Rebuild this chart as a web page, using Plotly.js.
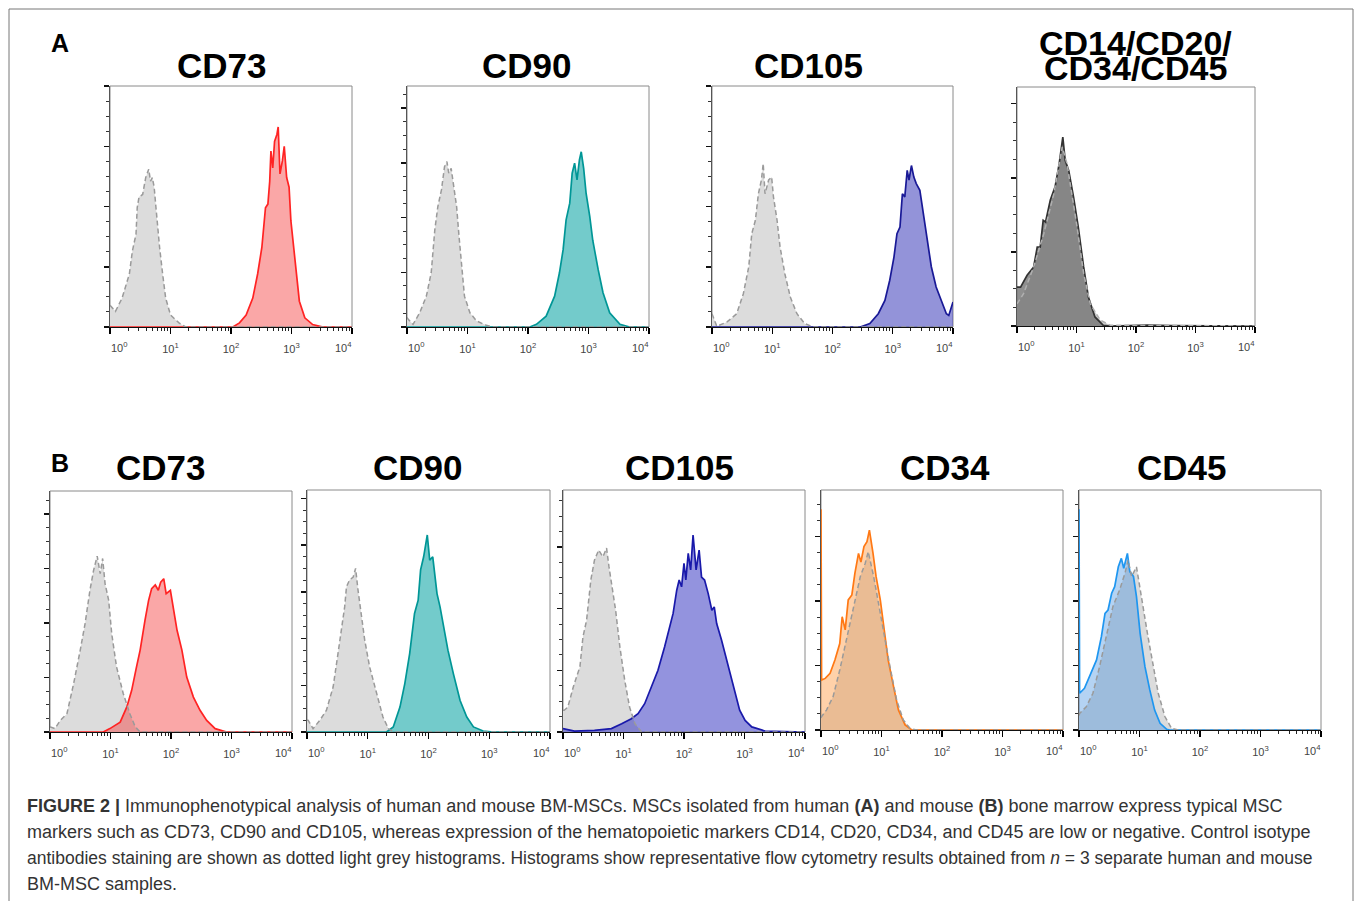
<!DOCTYPE html>
<html>
<head>
<meta charset="utf-8">
<script src="https://cdn.plot.ly/plotly-3.0.1.min.js"></script>
<style>html,body{margin:0;padding:0;background:#fff;}#chart{width:1355px;height:901px;}</style>
</head>
<body>
<div id="chart"></div>
<script>
// ---------- DATA (x = log10 fluorescence intensity, h = % of maximal count axis) ----------
const xTickVals = [1, 10, 100, 1000, 10000];
const xTickText = ["10<sup>0</sup>", "10<sup>1</sup>", "10<sup>2</sup>", "10<sup>3</sup>", "10<sup>4</sup>"];

// A: human BM-MSCs
const A_CD73_iso_e = [0, 0.09, 0.2, 0.32, 0.37, 0.43, 0.45, 0.48, 0.54, 0.59, 0.64, 0.67, 0.70, 0.73, 0.76, 0.79, 0.82, 0.87, 0.92, 1.0, 1.14, 1.25, 4];
const A_CD73_iso_h = [9, 6.5, 12, 22, 31.5, 38.5, 49.5, 54, 55, 62, 65.5, 60.5, 62, 58, 49.5, 41, 33, 22, 12, 5, 1.7, 0, 0];
const A_CD73_smp_e = [0, 2.03, 2.14, 2.25, 2.36, 2.44, 2.51, 2.57, 2.61, 2.64, 2.66, 2.69, 2.72, 2.76, 2.78, 2.81, 2.85, 2.88, 2.92, 2.96, 2.99, 3.05, 3.09, 3.13, 3.22, 3.35, 3.52, 4];
const A_CD73_smp_h = [0, 0, 1.7, 5, 12, 22, 33, 49.5, 51, 60.5, 73, 66, 77, 80, 83, 63.5, 69, 75, 62, 58, 44, 30, 19, 10.7, 3.8, 1, 0, 0];

const A_CD90_iso_e = [0, 0.02, 0.1, 0.21, 0.32, 0.40, 0.46, 0.51, 0.57, 0.62, 0.66, 0.69, 0.73, 0.77, 0.82, 0.86, 0.90, 0.95, 1.04, 1.15, 1.31, 1.42, 4];
const A_CD90_iso_h = [4, 3.2, 1.1, 5.9, 12.8, 22.5, 40.4, 50, 57, 66.5, 68.6, 63.8, 65.8, 58.3, 50, 37.6, 25.2, 12.8, 5.9, 2.5, 0.7, 0, 0];
const A_CD90_smp_e = [0, 2.03, 2.14, 2.30, 2.44, 2.52, 2.58, 2.63, 2.69, 2.73, 2.77, 2.81, 2.85, 2.88, 2.92, 2.96, 3.02, 3.07, 3.16, 3.24, 3.35, 3.52, 3.68, 4];
const A_CD90_smp_h = [0, 0, 1.1, 4.5, 12.8, 22.5, 32, 44.5, 51.4, 63.8, 68, 61, 69.3, 72.7, 65.8, 55.5, 46, 36, 23.8, 14.2, 5.9, 1.1, 0, 0];

const A_CD105_iso_e = [0, 0.02, 0.08, 0.25, 0.41, 0.52, 0.61, 0.66, 0.72, 0.77, 0.82, 0.85, 0.88, 0.94, 0.99, 1.02, 1.08, 1.13, 1.21, 1.30, 1.41, 1.54, 1.68, 4];
const A_CD105_iso_h = [5.5, 4, 0.3, 2.1, 5.5, 13.8, 25, 38.7, 44.3, 55.3, 61, 67.8, 55.3, 61, 62.2, 54, 44.3, 33.2, 22, 12.4, 5.5, 1.4, 0, 0];
const A_CD105_smp_e = [0, 2.46, 2.62, 2.76, 2.87, 2.95, 3.02, 3.07, 3.12, 3.16, 3.20, 3.24, 3.27, 3.31, 3.35, 3.39, 3.45, 3.50, 3.57, 3.64, 3.72, 3.81, 3.89, 3.93, 3.97, 4.0];
const A_CD105_smp_h = [0, 0, 1.4, 5.5, 11, 19.4, 29, 38.7, 41.5, 55.3, 54, 65, 61, 67, 62.2, 59.5, 56.7, 48.4, 37.3, 25, 16.6, 11, 5.5, 4.8, 8.3, 10.4];

const A_CD14_iso_e = [0, 0.11, 0.28, 0.45, 0.62, 0.76, 0.84, 0.92, 1.01, 1.12, 1.23, 1.40, 1.57, 4];
const A_CD14_iso_h = [9.3, 13.5, 24.7, 38.6, 55.4, 74.9, 68, 55.4, 41.4, 22, 9.3, 2.4, 0.3, 0];
const A_CD14_smp_e = [0, 0.06, 0.17, 0.28, 0.34, 0.39, 0.44, 0.48, 0.56, 0.64, 0.71, 0.77, 0.81, 0.87, 0.95, 1.03, 1.12, 1.20, 1.31, 1.45, 1.57, 2.2, 2.6, 4];
const A_CD14_smp_h = [16.3, 16.3, 21.2, 24.7, 33, 33, 44.2, 43.5, 52.7, 58.2, 68, 79, 69.3, 65, 54, 41.4, 24.7, 12.1, 3.8, 0.3, 0, 0.4, 0.2, 0];

// B: mouse BM-MSCs
const B_CD73_iso_e = [0, 0.01, 0.08, 0.17, 0.28, 0.39, 0.50, 0.58, 0.66, 0.72, 0.78, 0.83, 0.87, 0.91, 0.97, 1.02, 1.10, 1.21, 1.32, 1.41, 1.49, 4];
const B_CD73_iso_h = [2, 2.1, 1.4, 4.8, 7.6, 20, 34, 45, 58.8, 67, 73, 65.7, 72, 61.6, 54.6, 40.8, 27, 16, 7.6, 2.1, 0, 0];
const B_CD73_smp_e = [0, 0.88, 0.99, 1.16, 1.27, 1.35, 1.43, 1.49, 1.57, 1.63, 1.68, 1.74, 1.79, 1.83, 1.88, 1.92, 1.99, 2.04, 2.10, 2.18, 2.26, 2.37, 2.48, 2.59, 2.73, 2.92, 4];
const B_CD73_smp_h = [0, 0, 1.4, 4.1, 10.4, 17.3, 27, 34, 46.3, 54.6, 59.5, 61, 58.8, 62.2, 63.6, 57.4, 58.8, 50.5, 42.2, 34, 22.8, 14.5, 9, 4.8, 1.4, 0, 0];

const B_CD90_iso_e = [0, 0.02, 0.1, 0.21, 0.32, 0.43, 0.51, 0.57, 0.62, 0.65, 0.70, 0.76, 0.80, 0.84, 0.90, 0.95, 1.03, 1.14, 1.25, 1.34, 1.42, 4];
const B_CD90_iso_h = [5, 4.8, 1.4, 4.8, 9, 18.6, 32.4, 42, 51.7, 60, 62.8, 64, 67.6, 58.6, 46.2, 38, 27, 16, 6.2, 1.4, 0, 0];
const B_CD90_smp_e = [0, 1.31, 1.42, 1.53, 1.61, 1.69, 1.77, 1.83, 1.87, 1.92, 1.98, 2.02, 2.07, 2.10, 2.14, 2.19, 2.25, 2.32, 2.41, 2.52, 2.63, 2.74, 2.90, 3.07, 4];
const B_CD90_smp_h = [0, 0, 2.1, 10.3, 20, 32.4, 49, 54.5, 67, 72.4, 81.4, 71, 72.4, 65.5, 57.2, 51.7, 43.4, 33.8, 24, 13, 6.2, 2.1, 0.4, 0, 0];

const B_CD105_iso_e = [0, 0.02, 0.08, 0.17, 0.28, 0.33, 0.39, 0.46, 0.52, 0.59, 0.66, 0.72, 0.76, 0.81, 0.87, 0.94, 1.02, 1.10, 1.19, 1.30, 4];
const B_CD105_iso_h = [9, 9, 10.3, 18.6, 27, 39.3, 46.2, 62.8, 71, 75.2, 72.4, 76, 68.3, 60, 50.3, 35.2, 21.4, 10.3, 3.4, 0, 0];
const B_CD105_smp_e = [0, 0.19, 0.52, 0.80, 0.97, 1.13, 1.24, 1.35, 1.46, 1.57, 1.68, 1.77, 1.82, 1.88, 1.92, 1.96, 2.00, 2.03, 2.07, 2.11, 2.15, 2.20, 2.25, 2.29, 2.34, 2.40, 2.46, 2.50, 2.54, 2.62, 2.73, 2.84, 2.92, 3.01, 3.12, 3.34, 3.72, 4];
const B_CD105_smp_h = [1.4, 0.4, 0.7, 1.4, 3.4, 5.5, 7.6, 11.7, 18.6, 25.5, 35.2, 43.4, 49, 58.6, 62.8, 60, 69.7, 62.8, 73.8, 67, 81.4, 67, 75.2, 64, 62.8, 57.2, 50.3, 51.7, 44.8, 38, 27, 16, 9, 4.8, 2.1, 0.4, 0, 0];

const B_CD34_iso_e = [0, 0.01, 0.09, 0.2, 0.31, 0.42, 0.54, 0.65, 0.73, 0.78, 0.87, 0.95, 1.03, 1.14, 1.25, 1.36, 1.47, 1.58, 4];
const B_CD34_iso_h = [5, 5.6, 8.3, 13.9, 25, 37.5, 51.4, 64, 69.4, 74.3, 64, 52.8, 41.7, 26.4, 12.5, 4.2, 0.7, 0, 0];
const B_CD34_smp_e = [0, 0.01, 0.07, 0.15, 0.23, 0.31, 0.35, 0.40, 0.45, 0.51, 0.56, 0.62, 0.66, 0.71, 0.76, 0.80, 0.86, 0.91, 0.98, 1.04, 1.11, 1.20, 1.28, 1.39, 1.50, 4];
const B_CD34_smp_h = [92, 20.8, 21.5, 23.6, 29.2, 36, 47.2, 41.7, 54.2, 56.3, 65.3, 73.6, 70, 76.4, 78.5, 83.3, 73.6, 64, 54.2, 41.7, 29.2, 18, 8.3, 2.1, 0, 0];

const B_CD45_iso_e = [0, 0.01, 0.12, 0.23, 0.34, 0.45, 0.56, 0.67, 0.76, 0.81, 0.87, 0.95, 1.01, 1.07, 1.14, 1.23, 1.31, 1.42, 1.53, 1.64, 4];
const B_CD45_iso_h = [6, 6.9, 9.7, 15.3, 26.4, 38.9, 51.4, 58.3, 65.3, 70.8, 64, 68, 58.3, 48.6, 38.9, 26.4, 15.3, 5.6, 0.7, 0, 0];
const B_CD45_smp_e = [0, 0.01, 0.09, 0.2, 0.29, 0.37, 0.43, 0.48, 0.54, 0.59, 0.65, 0.70, 0.74, 0.80, 0.84, 0.90, 0.95, 1.01, 1.09, 1.17, 1.25, 1.34, 1.45, 1.50, 4];
const B_CD45_smp_h = [92, 15.3, 17.4, 23.6, 29.2, 38.9, 48.6, 50, 57, 59.7, 68, 71.5, 67.4, 73.6, 66, 64, 55.6, 40.3, 26.4, 16.7, 8.3, 2.8, 0.3, 0, 0];

const panelTitles = ["CD73", "CD90", "CD105", null, "CD73", "CD90", "CD105", "CD34", "CD45"];
const hematoTitleLines = ["CD14/CD20/", "CD34/CD45"];
const captionLines = [
  "<b>FIGURE 2 |</b> Immunophenotypical analysis of human and mouse BM-MSCs. MSCs isolated from human <b>(A)</b> and mouse <b>(B)</b> bone marrow express typical MSC",
  "markers such as CD73, CD90 and CD105, whereas expression of the hematopoietic markers CD14, CD20, CD34, and CD45 are low or negative. Control isotype",
  "antibodies staining are shown as dotted light grey histograms. Histograms show representative flow cytometry results obtained from <i>n</i> = 3 separate human and mouse",
  "BM-MSC samples."
];

// ---------- LAYOUT / STYLE ----------
const W = 1355, H = 901;
const fx = px => px / W;
const fy = py => 1 - py / H;
const FONT = 'Liberation Sans, Arial, sans-serif';
const TICKFONT = {size: 11, color: '#444', family: FONT};

const panels = [
  {iso:[A_CD73_iso_e, A_CD73_iso_h], smp:[A_CD73_smp_e, A_CD73_smp_h], box:[110,352,86,327], line:'rgb(255,35,35)', fill:'rgba(245,60,60,0.45)', dy:25, tx:221},
  {iso:[A_CD90_iso_e, A_CD90_iso_h], smp:[A_CD90_smp_e, A_CD90_smp_h], box:[407,649,86,327], line:'rgb(0,150,150)', fill:'rgba(0,160,160,0.55)', dy:22.7, tx:526},
  {iso:[A_CD105_iso_e, A_CD105_iso_h], smp:[A_CD105_smp_e, A_CD105_smp_h], box:[712,953,86,327], line:'rgb(25,25,150)', fill:'rgba(40,40,180,0.5)', dy:25, tx:808},
  {iso:[A_CD14_iso_e, A_CD14_iso_h], smp:[A_CD14_smp_e, A_CD14_smp_h], box:[1017,1255,87,326], line:'rgb(50,50,50)', fill:'rgba(115,115,115,0.8)', dy:31, tx:1135, isoFill:'#cfcfcf', isoLine:'#b0b0b0'},
  {iso:[B_CD73_iso_e, B_CD73_iso_h], smp:[B_CD73_smp_e, B_CD73_smp_h], box:[50,292,491,732], line:'rgb(255,35,35)', fill:'rgba(245,60,60,0.45)', dy:22.6, tx:160},
  {iso:[B_CD90_iso_e, B_CD90_iso_h], smp:[B_CD90_smp_e, B_CD90_smp_h], box:[307,550,490,732], line:'rgb(0,150,150)', fill:'rgba(0,160,160,0.55)', dy:19.3, tx:417},
  {iso:[B_CD105_iso_e, B_CD105_iso_h], smp:[B_CD105_smp_e, B_CD105_smp_h], box:[563,805,490,732], line:'rgb(25,25,170)', fill:'rgba(40,40,190,0.5)', dy:25.5, tx:679},
  {iso:[B_CD34_iso_e, B_CD34_iso_h], smp:[B_CD34_smp_e, B_CD34_smp_h], box:[821,1063,490,730], line:'rgb(255,120,20)', fill:'rgba(255,140,40,0.4)', dy:26.9, tx:945},
  {iso:[B_CD45_iso_e, B_CD45_iso_h], smp:[B_CD45_smp_e, B_CD45_smp_h], box:[1079,1321,490,730], line:'rgb(30,150,240)', fill:'rgba(40,130,220,0.35)', dy:26.9, tx:1181}
];

// minor tick positions on the log axis (2..9 within each decade)
const minorVals = [];
for (let d = 0; d < 4; d++) for (let k = 2; k <= 9; k++) minorVals.push(k * Math.pow(10, d));

// the outer decade labels sit slightly inside the frame in the figure: they are drawn as shifted annotations
const lastK = xTickText.length - 1;
const innerTickText = xTickText.map((t, k) => (k === 0 || k === lastK) ? '' : t);

const traces = [];
const layout = {
  width: W, height: H,
  margin: {l:0, r:0, t:0, b:0},
  paper_bgcolor: '#fff', plot_bgcolor: 'rgba(0,0,0,0)',
  showlegend: false,
  font: {family: FONT, color: '#000'},
  shapes: [], annotations: []
};

const toX = arr => arr.map(e => Math.pow(10, e));

panels.forEach((p, i) => {
  const n = i === 0 ? '' : String(i + 1);
  const xa = 'x' + n, ya = 'y' + n;
  const isoFill = p.isoFill || '#dcdcdc';
  const isoLine = p.isoLine || '#9a9a9a';
  traces.push({x: toX(p.iso[0]), y: p.iso[1], xaxis: xa, yaxis: ya, type: 'scatter', mode: 'lines',
    fill: 'tozeroy', fillcolor: isoFill, line: {width: 0, color: isoFill}, hoverinfo: 'skip'});
  traces.push({x: toX(p.smp[0]), y: p.smp[1], xaxis: xa, yaxis: ya, type: 'scatter', mode: 'lines',
    fill: 'tozeroy', fillcolor: p.fill, line: {width: 1.7, color: p.line}, hoverinfo: 'skip'});
  traces.push({x: toX(p.iso[0]), y: p.iso[1], xaxis: xa, yaxis: ya, type: 'scatter', mode: 'lines',
    line: {width: 1.5, color: isoLine, dash: '5px,3px'}, hoverinfo: 'skip'});

  layout['xaxis' + n] = {
    type: 'log', range: [0, 4], domain: [fx(p.box[0]), fx(p.box[1])], anchor: ya,
    tickmode: 'array', tickvals: xTickVals, ticktext: innerTickText,
    ticks: 'outside', ticklen: 6, tickwidth: 1.2, tickcolor: '#000',
    minor: {tickmode: 'array', tickvals: minorVals, ticks: 'outside', ticklen: 3, tickwidth: 1, tickcolor: '#222', showgrid: false},
    showline: true, linecolor: '#111', linewidth: 1.3, showgrid: false, zeroline: false,
    ticklabelstandoff: 5,
    tickfont: TICKFONT, fixedrange: true
  };
  layout['yaxis' + n] = {
    range: [0, 100], domain: [fy(p.box[3]), fy(p.box[2])], anchor: xa,
    showticklabels: false, tickmode: 'linear', tick0: 0, dtick: p.dy,
    ticks: 'outside', ticklen: 5, tickwidth: 1.5, tickcolor: '#111',
    minor: {tickmode: 'linear', tick0: 0, dtick: p.dy / 4, ticks: 'outside', ticklen: 3, tickwidth: 1, tickcolor: '#333', showgrid: false},
    showline: true, linecolor: '#555', linewidth: 1, showgrid: false, zeroline: false, fixedrange: true
  };
  layout.shapes.push({type: 'rect', xref: xa + ' domain', yref: ya + ' domain', x0: 0, x1: 1, y0: 0, y1: 1,
    line: {color: '#8a8a8a', width: 1}, layer: 'below'});

  // outer decade labels (10^0 and 10^4), nudged inwards
  [[0, 9], [lastK, -9]].forEach(([k, dx]) => {
    layout.annotations.push({xref: xa, yref: ya + ' domain', x: Math.log10(xTickVals[k]), y: 0,
      xanchor: 'center', yanchor: 'middle', xshift: dx, yshift: -20,
      text: xTickText[k], showarrow: false, font: TICKFONT});
  });

  if (panelTitles[i]) {
    const ty = i < 4 ? 66 : 467;
    layout.annotations.push({xref: 'paper', yref: 'paper', x: fx(p.tx), y: fy(ty), xanchor: 'center', yanchor: 'middle',
      text: '<b>' + panelTitles[i] + '</b>', showarrow: false, font: {size: 35, color: '#000', family: FONT}});
  }
});

// two-line title of the haematopoietic panel (tight line spacing as in the figure)
const hemY = [43, 68];
hematoTitleLines.forEach((t, k) => {
  layout.annotations.push({xref: 'paper', yref: 'paper', x: fx(1135), y: fy(hemY[k]), xanchor: 'center', yanchor: 'middle',
    text: '<b>' + t + '</b>', showarrow: false, font: {size: 34, color: '#000', family: FONT}});
});

// panel letters
layout.annotations.push({xref: 'paper', yref: 'paper', x: fx(60), y: fy(43), xanchor: 'center', yanchor: 'middle',
  text: '<b>A</b>', showarrow: false, font: {size: 25, color: '#000'}});
layout.annotations.push({xref: 'paper', yref: 'paper', x: fx(60), y: fy(463), xanchor: 'center', yanchor: 'middle',
  text: '<b>B</b>', showarrow: false, font: {size: 25, color: '#000'}});

// caption
const capY = [806, 832, 858, 884];
const capSize = [18, 18, 17.5, 18];
captionLines.forEach((t, k) => {
  layout.annotations.push({xref: 'paper', yref: 'paper', x: fx(25), y: fy(capY[k]), xanchor: 'left', yanchor: 'middle',
    text: t, showarrow: false, font: {size: capSize[k], color: '#333', family: FONT}});
});

// outer frame
layout.shapes.push({type: 'rect', xref: 'paper', yref: 'paper', x0: fx(9), x1: fx(1353), y0: fy(906), y1: fy(9),
  line: {color: '#777', width: 1}, layer: 'below'});

Plotly.newPlot('chart', traces, layout, {staticPlot: true, displayModeBar: false});
</script>
</body>
</html>
